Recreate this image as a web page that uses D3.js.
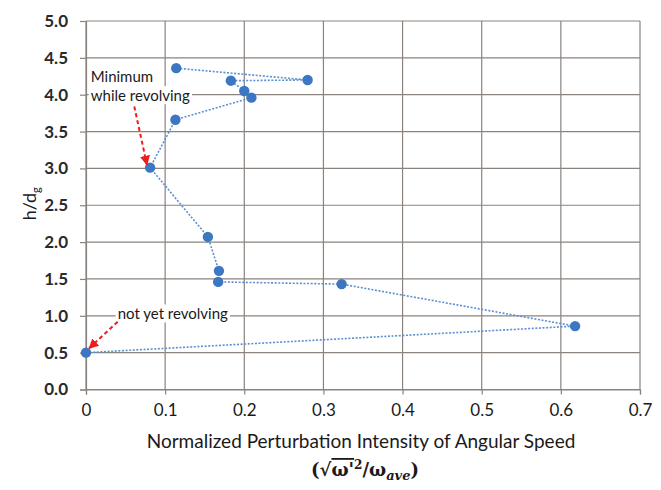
<!DOCTYPE html>
<html lang="en">
<head>
<meta charset="utf-8">
<script src="https://cdn.jsdelivr.net/npm/d3@7"></script>
<title>Angular speed perturbation</title>
<style>
body{
margin:0;
background:#ffffff;
font-family: Lato, 'Open Sans', sans-serif;
}
svg{
display:block;
}
</style>
</head>
<body>
<svg width="661" height="490"></svg>

<script>
// perturbation intensity (x) against height h/dg (y), in line order
var intensity = [0, 0.618, 0.323, 0.167, 0.168, 0.154, 0.081, 0.113, 0.209, 0.200, 0.183, 0.280, 0.114];
var height = [0.5, 0.86, 1.43, 1.46, 1.61, 2.07, 3.01, 3.66, 3.96, 4.05, 4.19, 4.20, 4.36];

var xTicks = [0, 0.1, 0.2, 0.3, 0.4, 0.5, 0.6, 0.7];
var yTicks = [0, 0.5, 1, 1.5, 2, 2.5, 3, 3.5, 4, 4.5, 5];

var plotLeft = 86, plotRight = 640, plotTop = 21, plotBottom = 389.5;
var gridColor = "#8a837e";

var svg = d3.select("svg");

var x = d3.scaleLinear().domain([0, 0.7]).range([plotLeft, plotRight]);
var y = d3.scaleLinear().domain([0, 5]).range([plotBottom, plotTop]);

// grid
svg.append("g").selectAll("line")
.data(xTicks).enter()
.append("line")
.attr("x1", d => x(d)).attr("x2", d => x(d))
.attr("y1", plotTop).attr("y2", plotBottom)
.attr("stroke", gridColor)
.attr("stroke-width", 1.2);

svg.append("g").selectAll("line")
.data(yTicks).enter()
.append("line")
.attr("x1", plotLeft).attr("x2", plotRight)
.attr("y1", d => y(d)).attr("y2", d => y(d))
.attr("stroke", gridColor)
.attr("stroke-width", 1.2);

// axes
var xAxis = svg.append("g")
.attr("transform", "translate(0," + plotBottom + ")")
.call(d3.axisBottom(x).tickValues(xTicks).tickSize(5).tickPadding(9)
  .tickFormat(d => d === 0 ? "0" : d3.format(".1f")(d)));

var yAxis = svg.append("g")
.attr("transform", "translate(" + plotLeft + ",0)")
.call(d3.axisLeft(y).tickValues(yTicks).tickSize(6).tickPadding(12)
  .tickFormat(d3.format(".1f")));

[xAxis, yAxis].forEach(function(a){
  a.select(".domain").attr("stroke", gridColor).attr("stroke-width", 1.2);
  a.selectAll(".tick line").attr("stroke", gridColor).attr("stroke-width", 1.2);
  a.selectAll("text")
  .attr("fill", "#1a1a1a")
  .attr("font-family", "Lato, 'Open Sans', sans-serif")
  .attr("font-size", 17);
});
yAxis.selectAll("text").attr("font-weight", 700).attr("fill", "#2a2a2a");

// annotation labels (white box hides the grid behind them)
var notes = [
  {lines: ["Minimum", "while revolving"], tx: 0.006, ty: 4.17, from: [0.061, 3.84], to: [0.077, 3.05]},
  {lines: ["not yet revolving"], tx: 0.040, ty: 0.95, from: [0.040, 0.92], to: [0.004, 0.56]}
];

notes.forEach(function(n){
  n.lines.forEach(function(s, i){
    var g = svg.append("g");
    var bg = g.append("rect").attr("fill", "#ffffff");
    var t = g.append("text")
    .attr("x", x(n.tx))
    .attr("y", y(n.ty) + i * 19)
    .attr("font-size", 15)
    .attr("fill", "#1a1a1a")
    .attr("font-family", "Lato, 'Open Sans', sans-serif")
    .text(s);
    var b = t.node().getBBox();
    bg.attr("x", b.x - 2).attr("y", b.y).attr("width", b.width + 4).attr("height", b.height);
  });
});

// series
var pts = intensity.map((v, i) => [v, height[i]]);

svg.append("path")
.datum(pts)
.attr("fill", "none")
.attr("stroke", "#5a8fd2")
.attr("stroke-width", 1.6)
.attr("stroke-dasharray", "2,1.6")
.attr("d", d3.line().x(d => x(d[0])).y(d => y(d[1])));

svg.append("g").selectAll("circle")
.data(pts).enter()
.append("circle")
.attr("cx", d => x(d[0]))
.attr("cy", d => y(d[1]))
.attr("r", 5.2)
.attr("fill", "#3b77c2");

// annotation arrows
svg.append("defs").append("marker")
.attr("id", "head")
.attr("viewBox", "0 0 10 10")
.attr("refX", 9).attr("refY", 5)
.attr("markerWidth", 5).attr("markerHeight", 5)
.attr("markerUnits", "strokeWidth")
.attr("orient", "auto")
.append("path")
.attr("d", "M0,0L10,5L0,10z")
.attr("fill", "#ee1c1c");

svg.append("g").selectAll("line")
.data(notes).enter()
.append("line")
.attr("x1", d => x(d.from[0])).attr("y1", d => y(d.from[1]))
.attr("x2", d => x(d.to[0])).attr("y2", d => y(d.to[1]))
.attr("stroke", "#ee1c1c")
.attr("stroke-width", 2)
.attr("stroke-dasharray", "4,3")
.attr("marker-end", "url(#head)");

// axis titles
svg.append("text")
.attr("x", (plotLeft + plotRight) / 2 - 2)
.attr("y", 448)
.attr("text-anchor", "middle")
.attr("font-size", 19)
.attr("fill", "#1a1a1a")
.text("Normalized Perturbation Intensity of Angular Speed");

var f = svg.append("text")
.attr("x", (plotLeft + plotRight) / 2 + 2)
.attr("y", 476)
.attr("text-anchor", "middle")
.attr("font-family", "'DejaVu Serif', serif")
.attr("font-weight", 700)
.attr("font-size", 18)
.attr("fill", "#1a1a1a");
f.append("tspan").text("(√");
f.append("tspan").attr("text-decoration", "overline").text("ω'");
f.append("tspan").attr("dy", -7).attr("font-size", 12).text("2");
f.append("tspan").attr("dy", 7).text("/ω");
f.append("tspan").attr("dy", 4).attr("font-size", 13).attr("font-style", "italic").text("ave");
f.append("tspan").attr("dy", -4).text(")");

var yt = svg.append("text")
.attr("transform", "translate(36," + y(2.52) + ") rotate(-90)")
.attr("text-anchor", "middle")
.attr("font-size", 18)
.attr("fill", "#1a1a1a");
yt.append("tspan").text("h/d");
yt.append("tspan").attr("dy", 4).attr("font-size", 11).text("g");
</script>
</body>
</html>
